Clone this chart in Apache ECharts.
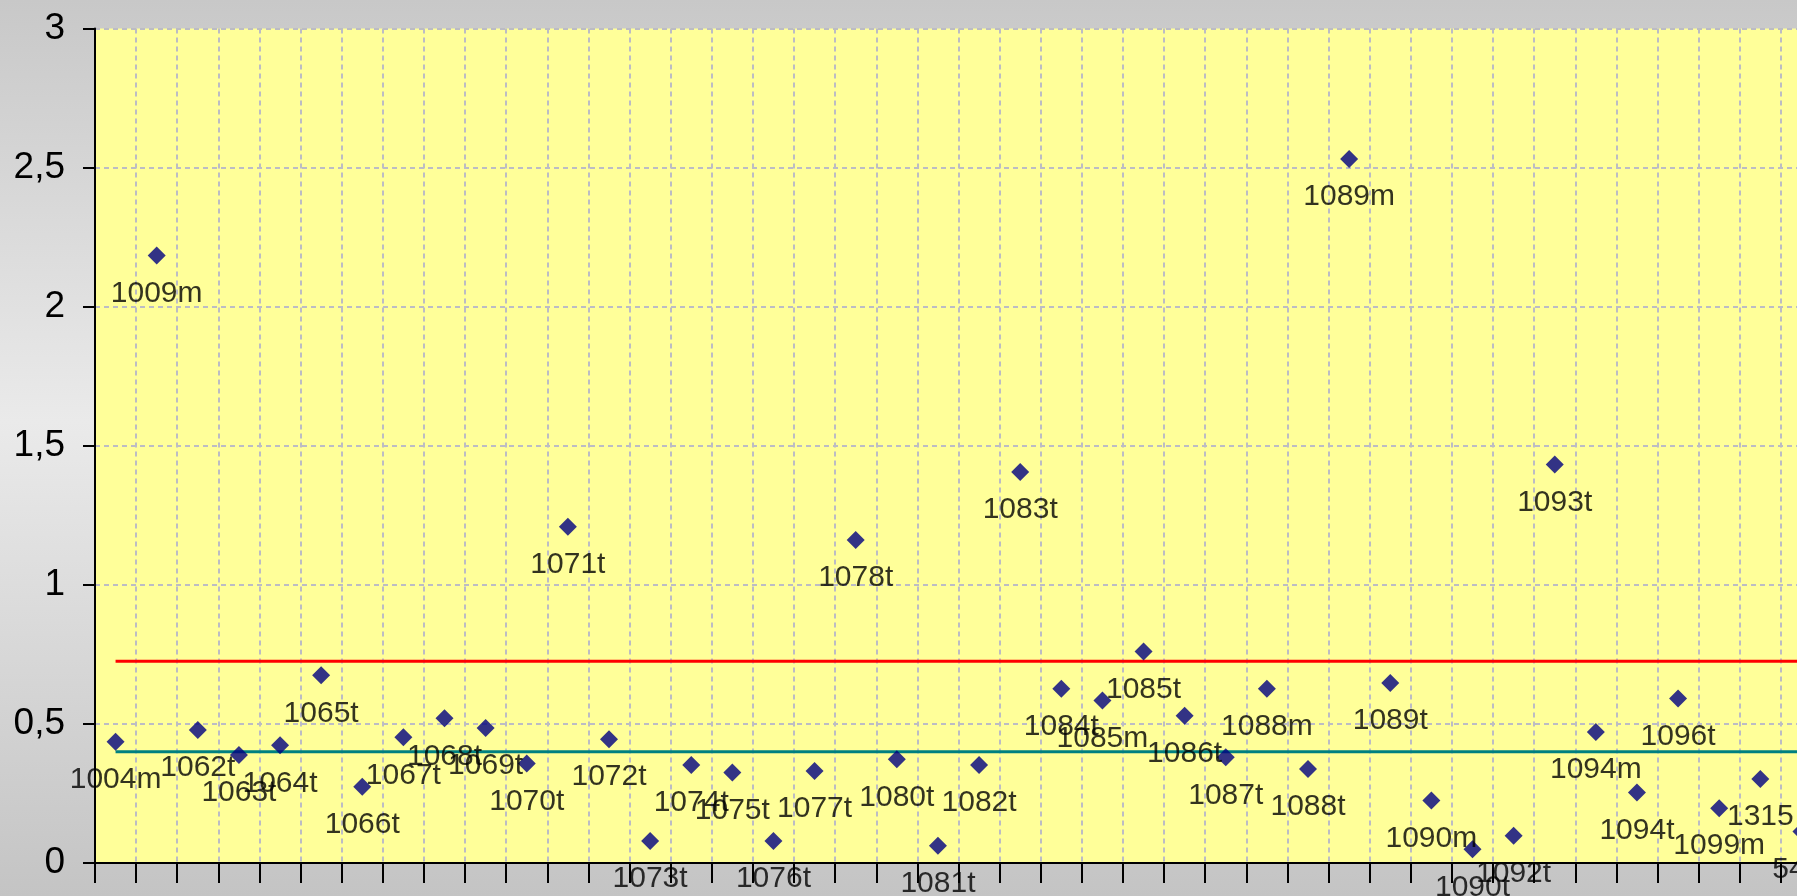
<!DOCTYPE html>
<html>
<head>
<meta charset="utf-8">
<script src="https://cdn.jsdelivr.net/npm/echarts@6/dist/echarts.min.js"></script>
<style>
html,body{margin:0;padding:0;overflow:hidden;width:1797px;height:896px;}
#c{width:1830px;height:896px;}
</style>
</head>
<body>
<div id="c"></div>
<script>
const categories = ['1004m','1009m','1062t','1063t','1064t','1065t','1066t','1067t','1068t','1069t','1070t','1071t','1072t','1073t','1074t','1075t','1076t','1077t','1078t','1080t','1081t','1082t','1083t','1084t','1085m','1085t','1086t','1087t','1088m','1088t','1089m','1089t','1090m','1090t','1092t','1093t','1094m','1094t','1096t','1099m','1315','54m'];
const values = [0.436,2.184,0.478,0.388,0.423,0.675,0.274,0.452,0.520,0.485,0.358,1.209,0.445,0.079,0.352,0.325,0.079,0.331,1.161,0.373,0.062,0.352,1.406,0.626,0.584,0.760,0.529,0.380,0.626,0.338,2.531,0.647,0.225,0.049,0.098,1.433,0.471,0.253,0.591,0.197,0.302,0.113];
const redLevel = 0.725;
const tealLevel = 0.40;
const yTicks = [0, 0.5, 1, 1.5, 2, 2.5, 3];

const font = "'Liberation Sans', Arial, sans-serif";
const chart = echarts.init(document.getElementById('c'), null, {renderer: 'canvas'});
const first = categories[0], last = categories[categories.length - 1];
chart.setOption({
  animation: false,
  backgroundColor: {
    type: 'linear', x: 0, y: 0, x2: 0, y2: 1,
    colorStops: [
      {offset: 0, color: '#c8c8c8'},
      {offset: 0.47, color: '#eaeaea'},
      {offset: 1, color: '#c4c4c4'}
    ]
  },
  grid: {
    left: 95, top: 28.5, width: 1727, height: 834.5,
    show: true, backgroundColor: '#ffff99', borderWidth: 0,
    containLabel: false
  },
  xAxis: {
    type: 'category',
    data: categories,
    boundaryGap: true,
    axisLine: {show: true, lineStyle: {color: '#000', width: 2}},
    axisTick: {show: true, inside: false, length: 20, alignWithLabel: false, interval: 0, lineStyle: {color: '#000', width: 2}},
    axisLabel: {show: false},
    splitLine: {show: true, interval: 0, lineStyle: {color: '#bcbcc4', width: 2, type: [5, 4]}}
  },
  yAxis: {
    type: 'value',
    min: yTicks[0], max: yTicks[yTicks.length - 1], interval: 0.5,
    axisLine: {show: true, lineStyle: {color: '#000', width: 2}},
    axisTick: {show: true, length: 12, lineStyle: {color: '#000', width: 2}},
    axisLabel: {
      show: true, margin: 30, color: '#000', fontSize: 37, fontFamily: font,
      formatter: v => String(v).replace('.', ',')
    },
    splitLine: {show: true, lineStyle: {color: '#bcbcc4', width: 2, type: [5, 4]}}
  },
  series: [
    {
      type: 'line', data: [[first, redLevel], [last, redLevel]],
      symbol: 'none', lineStyle: {color: '#ff0000', width: 3}, z: 2, silent: true
    },
    {
      type: 'line', data: [[first, tealLevel], [last, tealLevel]],
      symbol: 'none', lineStyle: {color: '#008080', width: 3}, z: 2, silent: true
    },
    {
      type: 'scatter',
      data: values,
      symbol: 'diamond', symbolSize: 18,
      itemStyle: {color: '#000080'},
      z: 5,
      label: {
        show: true, position: 'bottom', distance: 14,
        color: '#000', fontSize: 30, fontFamily: font,
        formatter: p => categories[p.dataIndex]
      }
    }
  ]
});
</script>
</body>
</html>
